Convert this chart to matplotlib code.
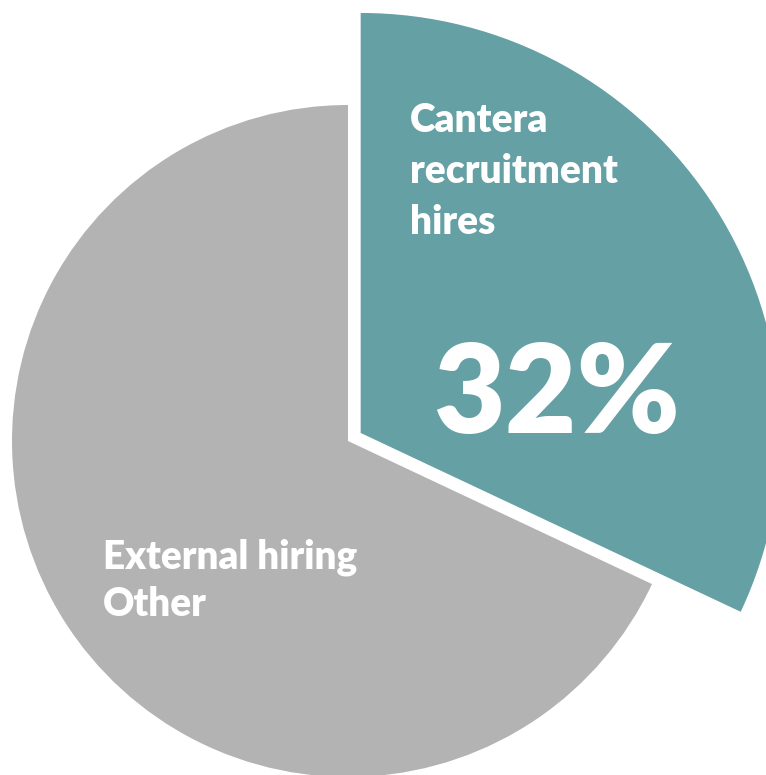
import matplotlib
matplotlib.use("Agg")
from matplotlib import pyplot as plt

# share of hires by source
sources = ["Cantera recruitment hires", "External hiring Other"]
shares = [32, 68]
colours = ["#64A0A4", "#B3B3B3"]
cantera_lines = ["Cantera", "recruitment", "hires"]
external_lines = ["External hiring", "Other"]
pct_label = "32%"

plt.rcParams['font.family'] = ['Lato', 'DejaVu Sans']

fig = plt.figure(figsize=(7.66, 7.75), dpi=100)
ax = fig.add_axes([0, 0, 1, 1])

r_main = 336
# explode is in data units here (axes are in pixels)
wedges, _ = ax.pie(shares, colors=colours, radius=r_main, startangle=90,
                   counterclock=False, explode=[15, 0],
                   wedgeprops=dict(linewidth=0))
# the highlighted slice sticks out past the rest of the pie
wedges[0].set_radius(420)

ax.set_xlim(-348, 418)
ax.set_ylim(-334, 441)
ax.set_aspect('equal')
ax.axis('off')

# slice labels, one line at a time
for i, line in enumerate(cantera_lines):
    ax.text(62, 309 - 51*i, line, color='white', fontsize=28,
            fontweight='heavy', ha='left', va='baseline')
ax.text(85, 8, pct_label, color='white', fontsize=89,
        fontweight='heavy', ha='left', va='baseline')
for i, line in enumerate(external_lines):
    ax.text(-245, -127 - 48*i, line, color='white', fontsize=27.8,
            fontweight='heavy', ha='left', va='baseline')

fig.savefig("out.png", dpi=100)
